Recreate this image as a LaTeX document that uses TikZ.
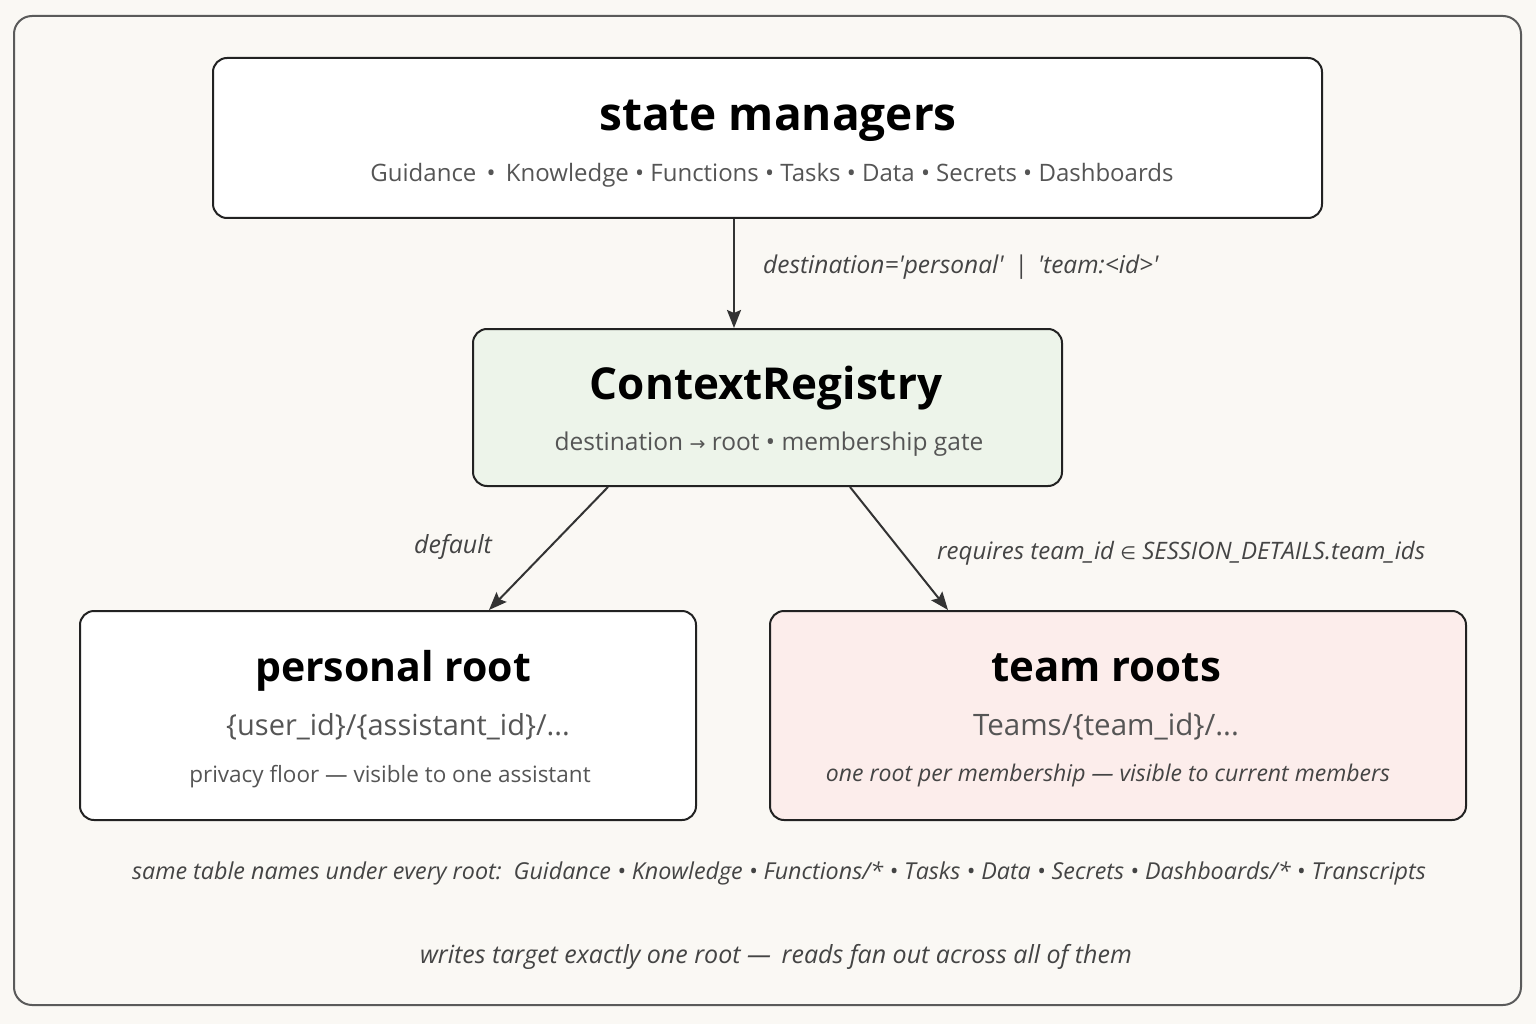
\documentclass[tikz,border=0pt]{standalone}
\usepackage{fontspec}
\setmainfont{Open Sans}
\newfontfamily\symfont{DejaVu Sans}
\usetikzlibrary{arrows.meta}
\definecolor{bg}{HTML}{FAF8F4}
\definecolor{frame}{HTML}{5A5A5A}
\definecolor{boxline}{HTML}{222222}
\definecolor{greenfill}{HTML}{EDF4EA}
\definecolor{pinkfill}{HTML}{FCEDEB}
\definecolor{subgray}{HTML}{555555}
\definecolor{labgray}{HTML}{444444}
\definecolor{arrowc}{HTML}{333333}
\newcommand\fs[1]{\fontsize{#1}{#1}\selectfont}
\newcommand\sq{\textquotesingle}
\tikzset{
  box/.style={draw=boxline, line width=2pt, rounded corners=14pt, inner sep=0pt},
  ttl/.style={text=black, inner sep=0pt, anchor=base},
  sub/.style={text=subgray, inner sep=0pt, anchor=base},
  lab/.style={text=labgray, inner sep=0pt, anchor=base},
  arr/.style={draw=arrowc, line width=2pt, -{Stealth[length=18pt,width=14pt,inset=3pt]}},
}
\begin{document}
\begin{tikzpicture}[x=1pt,y=-1pt]
\useasboundingbox (0,0) rectangle (1536,1024);
\fill[bg] (0,0) rectangle (1536,1024);
\draw[frame, line width=2pt, rounded corners=18pt] (14,16) rectangle (1521,1005);

\node[box, fill=white, minimum width=1109pt, minimum height=160pt] (state) at (767.5,138) {};
\node[ttl, font=\fs{46}\bfseries] (stateT) at (778,131) {state managers};
\node[sub, font=\fs{24}] (stateS) at (772,182) {Guidance \,\textbullet\, Knowledge \textbullet\ Functions \textbullet\ Tasks \textbullet\ Data \textbullet\ Secrets \textbullet\ Dashboards};

\node[box, fill=greenfill, minimum width=589pt, minimum height=157pt] (reg) at (767.5,407.5) {};
\node[ttl, font=\fs{44}\bfseries] (regT) at (766,399) {ContextRegistry};
\node[sub, font=\fs{24.5}] (regS) at (769,450) {destination {\symfont\fs{19}→} root \textbullet\ membership gate};

\node[box, fill=white, minimum width=616pt, minimum height=209pt] (pers) at (388,715.5) {};
\node[ttl, font=\fs{41}\bfseries] (persT) at (393,681) {personal root};
\node[sub, font=\fs{29}] (persP) at (398,735) {\{user\_id\}/\{assistant\_id\}/...};
\node[sub, font=\fs{22.5}] (persS) at (390,782) {privacy floor — visible to one assistant};

\node[box, fill=pinkfill, minimum width=696pt, minimum height=209pt] (team) at (1118,715.5) {};
\node[ttl, font=\fs{42}\bfseries] (teamT) at (1106,681) {team roots};
\node[sub, font=\fs{29.5}] (teamP) at (1106,735) {Teams/\{team\_id\}/...};
\node[lab, font=\fs{23}\itshape] (teamS) at (1108,781) {one root per membership — visible to current members};

\draw[arr] ([xshift=-33.5pt]state.south) -- ([xshift=-33.5pt]reg.north);
\node[lab, anchor=base west, font=\fs{24.5}\itshape] (l1) at (763,273) {destination=\sq personal\sq\ \,|\, \sq team:<id>\sq};

\draw[arr] ([xshift=-159.5pt]reg.south) -- ([xshift=101pt]pers.north);
\node[lab, font=\fs{25}\itshape] (l2) at (453,553) {default};

\draw[arr] ([xshift=82.5pt]reg.south) -- ([xshift=-170pt]team.north);
\node[lab, anchor=base west, font=\fs{24}\itshape] (l3) at (937,559) {requires team\_id {\symfont\upshape\fs{18}∈} SESSION\_DETAILS.team\_ids};

\node[lab, font=\fs{23.3}\itshape] (foot1) at (779,879) {same table names under every root: \,Guidance \textbullet\ Knowledge \textbullet\ Functions/* \textbullet\ Tasks \textbullet\ Data \textbullet\ Secrets \textbullet\ Dashboards/* \textbullet\ Transcripts};
\node[lab, font=\fs{25}\itshape] (foot2) at (776,963) {writes target exactly one root — \,reads fan out across all of them};
\end{tikzpicture}
\end{document}
